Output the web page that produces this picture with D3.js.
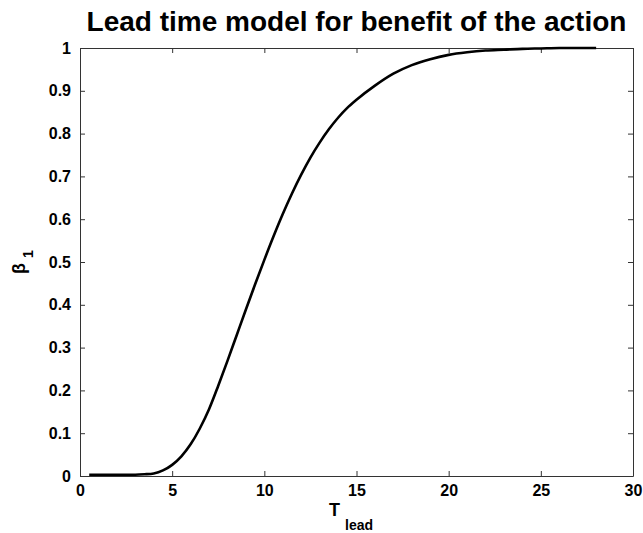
<!DOCTYPE html>
<html>
<head>
<meta charset="utf-8">
<script src="https://cdn.jsdelivr.net/npm/d3@7"></script>
<style>
  html, body { margin: 0; padding: 0; background: #fff; }
  svg { display: block; }
  text { font-family: "Liberation Sans", Arial, Helvetica, sans-serif; font-weight: bold; fill: #000; }
</style>
</head>
<body>
<svg id="chart" width="643" height="533"></svg>
<script>
// Lead time (T_lead) samples and the modelled benefit fraction beta_1
const leadTime = [0.5, 1, 2, 3, 3.5, 4, 4.5, 5, 5.5, 6, 6.5, 7, 7.5, 8, 8.5, 9, 9.5, 10,
                  10.5, 11, 11.5, 12, 12.5, 13, 13.5, 14, 14.5, 15, 16, 17, 18, 19, 20,
                  21, 22, 23, 24, 25, 26, 27, 28];
const beta1 = [0.003, 0.003, 0.003, 0.003, 0.004, 0.006, 0.013, 0.026, 0.046, 0.074, 0.111, 0.156,
               0.211, 0.269, 0.329, 0.389, 0.448, 0.505, 0.560, 0.612, 0.660, 0.704, 0.744, 0.779,
               0.810, 0.837, 0.860, 0.879, 0.912, 0.940, 0.960, 0.974, 0.984, 0.990, 0.994, 0.996,
               0.998, 0.999, 1.0, 1.0, 1.0];

// Axis ticks and their labels
const xTicks = [0, 5, 10, 15, 20, 25, 30];
const xTickLabels = ["0", "5", "10", "15", "20", "25", "30"];
const yTicks = [0, 0.1, 0.2, 0.3, 0.4, 0.5, 0.6, 0.7, 0.8, 0.9, 1];
const yTickLabels = ["0", "0.1", "0.2", "0.3", "0.4", "0.5", "0.6", "0.7", "0.8", "0.9", "1"];

const titleText = "Lead time model for benefit of the action";

const svg = d3.select("#chart");
const plotLeft = 80, plotRight = 633, plotTop = 48, plotBottom = 476;

const x = d3.scaleLinear().domain([0, 30]).range([plotLeft, plotRight]);
const y = d3.scaleLinear().domain([0, 1]).range([plotBottom, plotTop]);

const frameColor = "#333";
const tickLen = 5;

// Axes on all four sides, ticks pointing inward
const axBottom = d3.axisBottom(x).tickValues(xTicks).tickSizeInner(-tickLen).tickSizeOuter(0)
  .tickFormat((d, i) => xTickLabels[i]).tickPadding(9);
const axTop = d3.axisTop(x).tickValues(xTicks).tickSizeInner(-tickLen).tickSizeOuter(0).tickFormat("");
const axLeft = d3.axisLeft(y).tickValues(yTicks).tickSizeInner(-tickLen).tickSizeOuter(0)
  .tickFormat((d, i) => yTickLabels[i]).tickPadding(9);
const axRight = d3.axisRight(y).tickValues(yTicks).tickSizeInner(-tickLen).tickSizeOuter(0).tickFormat("");

function styleAxis(g) {
  g.selectAll("path.domain").attr("stroke", frameColor).attr("stroke-width", 1);
  g.selectAll(".tick line").attr("stroke", frameColor).attr("stroke-width", 1);
  g.selectAll(".tick text").attr("fill", "#000")
    .style("font-family", '"Liberation Sans", Arial, sans-serif')
    .style("font-weight", "bold").style("font-size", "16px");
}

svg.append("g").attr("transform", `translate(0,${plotBottom})`).call(axBottom).call(styleAxis);
svg.append("g").attr("transform", `translate(0,${plotTop})`).call(axTop).call(styleAxis);
svg.append("g").attr("transform", `translate(${plotLeft},0)`).call(axLeft).call(styleAxis);
svg.append("g").attr("transform", `translate(${plotRight},0)`).call(axRight).call(styleAxis);

// Benefit curve
const line = d3.line()
  .x((d, i) => x(leadTime[i]))
  .y(d => y(d))
  .curve(d3.curveMonotoneX);

svg.append("path")
  .datum(beta1)
  .attr("d", line)
  .attr("fill", "none")
  .attr("stroke", "#000")
  .attr("stroke-width", 2.6)
  .attr("stroke-linejoin", "round");

// Title
svg.append("text")
  .attr("x", (plotLeft + plotRight) / 2)
  .attr("y", 31)
  .attr("text-anchor", "middle")
  .style("font-size", "28px")
  .text(titleText);

// X label: T with subscript "lead"
const xl = svg.append("text")
  .attr("x", 329)
  .attr("y", 516)
  .attr("text-anchor", "start")
  .style("font-size", "18px");
xl.append("tspan").text("T ");
xl.append("tspan").attr("dy", 14).style("font-size", "14px").text("lead");

// Y label: beta with subscript 1
const yl = svg.append("text")
  .attr("transform", `translate(25,${(plotTop + plotBottom) / 2}) rotate(-90)`)
  .attr("text-anchor", "middle")
  .style("font-size", "18px");
yl.append("tspan").text("β ");
yl.append("tspan").attr("dy", 8).style("font-size", "14px").text("1");
</script>
</body>
</html>
